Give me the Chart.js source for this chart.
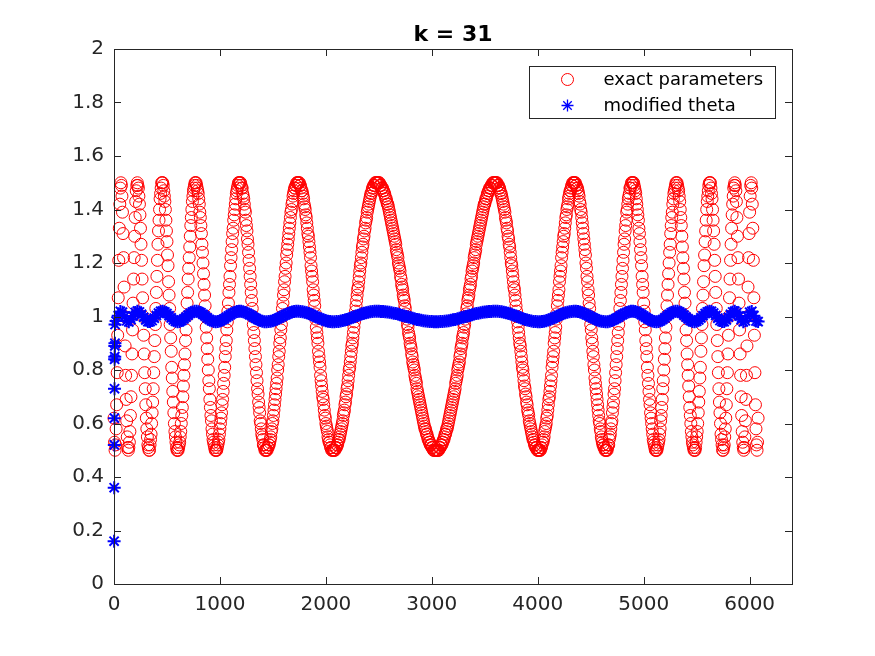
<!DOCTYPE html>
<html>
<head>
<meta charset="utf-8">
<title>k = 31</title>
<script src="https://cdn.jsdelivr.net/npm/chart.js@4.4.1/dist/chart.umd.min.js"></script>
<style>
  html, body { margin: 0; padding: 0; background: #fff; }
  #wrap { width: 875px; height: 656px; }
</style>
</head>
<body>
<div id="wrap"><canvas id="plot" width="875" height="656"></canvas></div>
<script>
/* k = 31 – exact parameters vs modified theta */

// axis ticks
const xTicks = [0, 1000, 2000, 3000, 4000, 5000, 6000];
const yTicks = [0, 0.2, 0.4, 0.6, 0.8, 1, 1.2, 1.4, 1.6, 1.8, 2];

// exact parameters, one value every 5 samples (x = 0 .. 3040, then 3045 .. 6080)
const redStep = 5;
const redLeft = [
  0.62,0.53,
  0.50,0.52,0.58,0.67,0.79,0.93,1.07,1.21,1.33,1.42,1.48,1.50,
  1.49,1.45,1.39,1.31,1.22,1.11,1.00,0.89,0.78,0.69,0.61,0.55,0.51,0.50,
  0.51,0.53,0.57,0.63,0.70,0.78,0.86,0.95,1.05,1.14,1.22,1.30,1.37,1.43,1.47,1.49,1.50,
  1.49,1.48,1.45,1.42,1.38,1.33,1.27,1.21,1.14,1.07,1.00,0.93,0.86,0.79,0.73,0.67,0.62,0.58,0.55,0.52,0.51,0.50,
  0.50,0.52,0.54,0.56,0.60,0.64,0.68,0.73,0.79,0.85,0.91,0.97,1.03,1.09,1.15,1.21,1.27,1.32,1.36,1.40,1.44,1.46,1.48,1.50,1.50,
  1.50,1.49,1.47,1.45,1.43,1.40,1.36,1.32,1.28,1.23,1.19,1.13,1.08,1.03,0.97,0.92,0.87,0.81,0.77,0.72,0.68,0.64,0.60,0.57,0.55,0.53,0.51,0.50,0.50,
  0.50,0.51,0.52,0.53,0.55,0.57,0.60,0.63,0.66,0.70,0.74,0.78,0.82,0.86,0.91,0.95,1.00,1.05,1.09,1.14,1.18,1.22,1.26,1.30,1.34,1.37,1.40,1.43,1.45,1.47,1.48,1.49,1.50,1.50,
  1.50,1.49,1.48,1.47,1.46,1.44,1.42,1.39,1.37,1.34,1.31,1.27,1.24,1.20,1.16,1.12,1.08,1.04,1.00,0.96,0.92,0.88,0.84,0.80,0.76,0.73,0.69,0.66,0.63,0.61,0.58,0.56,0.54,0.53,0.52,0.51,0.50,0.50,
  0.50,0.50,0.51,0.52,0.53,0.54,0.56,0.58,0.60,0.62,0.64,0.67,0.69,0.72,0.75,0.78,0.81,0.85,0.88,0.91,0.95,0.98,1.02,1.05,1.09,1.12,1.15,1.19,1.22,1.25,1.28,1.31,1.33,1.36,1.38,1.40,1.42,1.44,1.46,1.47,1.48,1.49,1.50,1.50,1.50,
  1.50,1.50,1.49,1.48,1.48,1.46,1.45,1.44,1.42,1.40,1.39,1.36,1.34,1.32,1.29,1.27,1.24,1.21,1.18,1.15,1.12,1.09,1.06,1.03,1.00,0.97,0.94,0.91,0.88,0.85,0.82,0.79,0.76,0.73,0.71,0.68,0.66,0.64,0.61,0.60,0.58,0.56,0.55,0.54,0.52,0.52,0.51,0.50,0.50,0.50,
  0.50,0.50,0.51,0.51,0.52,0.52,0.53,0.54,0.55,0.57,0.58,0.60,0.61,0.63,0.65,0.67,0.69,0.71,0.73,0.75,0.77,0.80,0.82,0.85,0.87,0.90,0.92,0.95,0.97,1.00,1.03,1.05,1.08,1.10,1.13,1.15,1.18,1.20,1.23,1.25,1.27,1.29,1.31,1.33,1.35,1.37,1.39,1.40,1.42,1.43,1.45,1.46,1.47,1.48,1.48,1.49,1.49,1.50,1.50,1.50,
  1.50,1.50,1.50,1.49,1.49,1.48,1.47,1.47,1.46,1.45,1.44,1.42,1.41,1.40,1.38,1.37,1.35,1.33,1.31,1.30,1.28,1.26,1.24,1.22,1.19,1.17,1.15,1.13,1.10,1.08,1.06,1.04,1.01,0.99,0.96,0.94,0.92,0.90,0.87,0.85,0.83,0.81,0.78,0.76,0.74,0.72,0.70,0.69,0.67,0.65,0.63,0.62,0.60,0.59,0.58,0.57,0.55,0.54,0.53,0.53,0.52,0.51,0.51,0.50,0.50,0.50,0.50,
  0.50,0.50,0.50,0.51,0.51,0.51,0.52,0.52,0.53,0.54,0.54,0.55,0.56,0.57,0.58,0.59,0.60,0.61,0.63,0.64,0.65,0.67,0.68,0.70,0.71,0.73,0.74,0.76,0.78,0.80,0.81,0.83,0.85,0.87,0.89,0.90,0.92,0.94,0.96,0.98,1.00,1.02,1.04,1.06,1.08,1.10,1.11,1.13,1.15,1.17,1.19,1.20,1.22,1.24,1.26,1.27,1.29,1.30,1.32,1.33,1.35,1.36,1.37,1.39,1.40,1.41,1.42,1.43,1.44,1.45,1.46,1.46,1.47,1.48,1.48,1.49,1.49,1.49,1.50,1.50,1.50,1.50,
  1.50,1.50,1.50,1.50,1.50,1.49,1.49,1.49,1.48,1.48,1.48,1.47,1.47,1.46,1.46,1.45,1.44,1.44,1.43,1.42,1.42,1.41,1.40,1.39,1.38,1.37,1.36,1.35,1.34,1.33,1.32,1.31,1.30,1.29,1.28,1.27,1.25,1.24,1.23,1.22,1.20,1.19,1.18,1.17,1.15,1.14,1.12,1.11,1.10,1.08,1.07,1.06,1.04,1.03,1.01,1.00,0.99,0.97,0.96,0.94,0.93,0.92,0.90,0.89,0.88,0.86,0.85,0.83,0.82,0.81,0.80,0.78,0.77,0.76,0.75,0.73,0.72,0.71,0.70,0.69,0.68,0.67,0.66,0.65,0.64,0.63,0.62,0.61,0.60,0.59,0.58,0.58,0.57,0.56,0.56,0.55,0.54,0.54,0.53,0.53,0.52,0.52,0.52,0.51,0.51,0.51,0.50,0.50,0.50,0.50,0.50,0.50
];
const redRight = [
  0.50,0.50,0.50,0.50,0.50,0.51,0.51,0.51,0.52,0.52,0.52,0.53,0.53,0.54,0.54,0.55,0.56,0.56,0.57,0.58,0.58,0.59,0.60,0.61,0.62,0.63,0.64,0.65,0.66,0.67,0.68,0.69,0.70,0.71,0.72,0.73,0.75,0.76,0.77,0.78,0.80,0.81,0.82,0.83,0.85,0.86,0.88,0.89,0.90,0.92,0.93,0.94,0.96,0.97,0.99,1.00,1.01,1.03,1.04,1.06,1.07,1.08,1.10,1.11,1.12,1.14,1.15,1.17,1.18,1.19,1.20,1.22,1.23,1.24,1.25,1.27,1.28,1.29,1.30,1.31,1.32,1.33,1.34,1.35,1.36,1.37,1.38,1.39,1.40,1.41,1.42,1.42,1.43,1.44,1.44,1.45,1.46,1.46,1.47,1.47,1.48,1.48,1.48,1.49,1.49,1.49,1.50,1.50,1.50,1.50,1.50,1.50,
  1.50,1.50,1.50,1.49,1.49,1.49,1.48,1.48,1.47,1.46,1.46,1.45,1.44,1.43,1.42,1.41,1.40,1.39,1.37,1.36,1.35,1.33,1.32,1.30,1.29,1.27,1.26,1.24,1.22,1.20,1.19,1.17,1.15,1.13,1.11,1.10,1.08,1.06,1.04,1.02,1.00,0.98,0.96,0.94,0.92,0.90,0.89,0.87,0.85,0.83,0.81,0.80,0.78,0.76,0.74,0.73,0.71,0.70,0.68,0.67,0.65,0.64,0.63,0.61,0.60,0.59,0.58,0.57,0.56,0.55,0.54,0.54,0.53,0.52,0.52,0.51,0.51,0.51,0.50,0.50,0.50,0.50,
  0.50,0.50,0.50,0.51,0.51,0.52,0.53,0.53,0.54,0.55,0.57,0.58,0.59,0.60,0.62,0.63,0.65,0.67,0.69,0.70,0.72,0.74,0.76,0.78,0.81,0.83,0.85,0.87,0.90,0.92,0.94,0.96,0.99,1.01,1.04,1.06,1.08,1.10,1.13,1.15,1.17,1.19,1.22,1.24,1.26,1.28,1.30,1.31,1.33,1.35,1.37,1.38,1.40,1.41,1.42,1.44,1.45,1.46,1.47,1.47,1.48,1.49,1.49,1.50,1.50,1.50,1.50,
  1.50,1.50,1.49,1.49,1.48,1.48,1.47,1.46,1.45,1.43,1.42,1.40,1.39,1.37,1.35,1.33,1.31,1.29,1.27,1.25,1.23,1.20,1.18,1.15,1.13,1.10,1.08,1.05,1.03,1.00,0.97,0.95,0.92,0.90,0.87,0.85,0.82,0.80,0.77,0.75,0.73,0.71,0.69,0.67,0.65,0.63,0.61,0.60,0.58,0.57,0.55,0.54,0.53,0.52,0.52,0.51,0.51,0.50,0.50,0.50,
  0.50,0.50,0.51,0.52,0.52,0.54,0.55,0.56,0.58,0.60,0.61,0.64,0.66,0.68,0.71,0.73,0.76,0.79,0.82,0.85,0.88,0.91,0.94,0.97,1.00,1.03,1.06,1.09,1.12,1.15,1.18,1.21,1.24,1.27,1.29,1.32,1.34,1.36,1.39,1.40,1.42,1.44,1.45,1.46,1.48,1.48,1.49,1.50,1.50,1.50,
  1.50,1.50,1.49,1.48,1.47,1.46,1.44,1.42,1.40,1.38,1.36,1.33,1.31,1.28,1.25,1.22,1.19,1.15,1.12,1.09,1.05,1.02,0.98,0.95,0.91,0.88,0.85,0.81,0.78,0.75,0.72,0.69,0.67,0.64,0.62,0.60,0.58,0.56,0.54,0.53,0.52,0.51,0.50,0.50,0.50,
  0.50,0.51,0.52,0.53,0.54,0.56,0.58,0.61,0.63,0.66,0.69,0.73,0.76,0.80,0.84,0.88,0.92,0.96,1.00,1.04,1.08,1.12,1.16,1.20,1.24,1.27,1.31,1.34,1.37,1.39,1.42,1.44,1.46,1.47,1.48,1.49,1.50,1.50,
  1.50,1.49,1.48,1.47,1.45,1.43,1.40,1.37,1.34,1.30,1.26,1.22,1.18,1.14,1.09,1.05,1.00,0.95,0.91,0.86,0.82,0.78,0.74,0.70,0.66,0.63,0.60,0.57,0.55,0.53,0.52,0.51,0.50,0.50,
  0.50,0.51,0.53,0.55,0.57,0.60,0.64,0.68,0.72,0.77,0.81,0.87,0.92,0.97,1.03,1.08,1.13,1.19,1.23,1.28,1.32,1.36,1.40,1.43,1.45,1.47,1.49,1.50,1.50,
  1.50,1.48,1.46,1.44,1.40,1.36,1.32,1.27,1.21,1.15,1.09,1.03,0.97,0.91,0.85,0.79,0.73,0.68,0.64,0.60,0.56,0.54,0.52,0.50,0.50,
  0.51,0.52,0.55,0.58,0.62,0.67,0.73,0.79,0.86,0.93,1.00,1.07,1.14,1.21,1.27,1.33,1.38,1.42,1.45,1.48,1.49,1.50,
  1.49,1.47,1.43,1.37,1.30,1.22,1.14,1.05,0.95,0.86,0.78,0.70,0.63,0.57,0.53,0.51,0.50,
  0.51,0.55,0.61,0.69,0.78,0.89,1.00,1.11,1.22,1.31,1.39,1.45,1.49,1.50,
  1.48,1.42,1.33,1.21,1.07,0.93,0.79,0.67,0.58,0.52,0.50,
  0.53,0.62
];

// modified theta: first iterations (x = 1 .. 10), then one value every 20 samples from x = 20
const blueStart = [0.16, 0.36, 0.52, 0.62, 0.73, 0.84, 0.85, 0.89, 0.90, 0.97];
const blueFirstX = 20;
const blueStep = 20;
const blueLeft = [
  0.983,1.003,1.019,1.016,1.000,0.984,0.980,0.988,1.002,1.015,1.020,1.017,1.008,0.997,0.987,0.981,0.981,0.985,0.994,1.004,
  1.013,1.019,1.020,1.017,1.011,1.003,0.995,0.987,0.982,0.980,0.981,0.985,0.991,0.998,1.005,1.012,1.017,1.020,1.020,1.018,
  1.014,1.008,1.002,0.995,0.989,0.984,0.981,0.980,0.981,0.983,0.987,0.991,0.997,1.002,1.007,1.012,1.016,1.019,1.020,1.020,
  1.018,1.015,1.012,1.007,1.003,0.997,0.993,0.988,0.985,0.982,0.980,0.980,0.981,0.982,0.984,0.987,0.991,0.995,0.999,1.003,
  1.007,1.011,1.014,1.017,1.019,1.020,1.020,1.019,1.018,1.016,1.014,1.011,1.008,1.004,1.000,0.997,0.993,0.990,0.987,0.984,
  0.982,0.981,0.980,0.980,0.981,0.981,0.983,0.985,0.987,0.989,0.992,0.995,0.998,1.001,1.004,1.007,1.010,1.012,1.014,1.016,
  1.018,1.019,1.020,1.020,1.020,1.019,1.019,1.018,1.017,1.016,1.014,1.012,1.011,1.009,1.007,1.004,1.002,1.000,0.998,0.996,
  0.993,0.991,0.989,0.988,0.986,0.984,0.983,0.982,0.981,0.981,0.980,0.980
];
const blueRight = [
  0.980,0.981,0.981,0.982,0.983,0.984,0.986,0.988,0.989,0.991,0.993,0.996,0.998,1.000,1.002,1.004,1.007,1.009,1.011,1.012,
  1.014,1.016,1.017,1.018,1.019,1.019,1.020,1.020,1.020,1.019,1.018,1.016,1.014,1.012,1.010,1.007,1.004,1.001,0.998,0.995,
  0.992,0.989,0.987,0.985,0.983,0.981,0.981,0.980,0.980,0.981,0.982,0.984,0.987,0.990,0.993,0.997,1.000,1.004,1.008,1.011,
  1.014,1.016,1.018,1.019,1.020,1.020,1.019,1.017,1.014,1.011,1.007,1.003,0.999,0.995,0.991,0.987,0.984,0.982,0.981,0.980,
  0.980,0.982,0.985,0.988,0.993,0.997,1.003,1.007,1.012,1.015,1.018,1.020,1.020,1.019,1.016,1.012,1.007,1.002,0.997,0.991,
  0.987,0.983,0.981,0.980,0.981,0.984,0.989,0.995,1.002,1.008,1.014,1.018,1.020,1.020,1.017,1.012,1.005,0.998,0.991,0.985,
  0.981,0.980,0.982,0.987,0.995,1.003,1.011,1.017,1.020,1.019,1.013,1.004,0.994,0.985,0.981,0.981,0.987,0.997,1.008,1.017,
  1.020,1.015,1.002,0.988,0.980,0.984,1.000,1.016,1.019,1.003,0.983,0.981
];

const AXIS_COLOR = '#262626';
const TICK_LEN = 7;
const FONT = '"DejaVu Sans", "Liberation Sans", sans-serif';

Chart.defaults.font.family = FONT;

const redPoints = redLeft.concat(redRight).map((y, i) => ({ x: i * redStep, y }));
const bluePoints = blueStart.map((y, i) => ({ x: i + 1, y }))
  .concat(blueLeft.concat(blueRight).map((y, i) => ({ x: blueFirstX + i * blueStep, y })));

// box, inward ticks on all four sides, title and legend (MATLAB look)
const matlabFrame = {
  id: 'matlabFrame',
  afterDatasetsDraw(chart) {
    const { ctx, chartArea: a, scales } = chart;
    ctx.save();
    ctx.strokeStyle = AXIS_COLOR;
    ctx.lineWidth = 1;
    ctx.beginPath();
    xTicks.forEach(v => {
      const px = Math.round(scales.x.getPixelForValue(v)) + 0.5;
      ctx.moveTo(px, a.bottom); ctx.lineTo(px, a.bottom - TICK_LEN);
      ctx.moveTo(px, a.top); ctx.lineTo(px, a.top + TICK_LEN);
    });
    yTicks.forEach(v => {
      const py = Math.round(scales.y.getPixelForValue(v)) + 0.5;
      ctx.moveTo(a.left, py); ctx.lineTo(a.left + TICK_LEN, py);
      ctx.moveTo(a.right, py); ctx.lineTo(a.right - TICK_LEN, py);
    });
    ctx.stroke();
    ctx.strokeRect(Math.round(a.left) + 0.5, Math.round(a.top) + 0.5,
                   Math.round(a.right - a.left), Math.round(a.bottom - a.top));
    ctx.restore();
  },
  afterDraw(chart) {
    const { ctx, chartArea: a } = chart;
    ctx.save();

    // title
    ctx.fillStyle = '#000';
    ctx.font = 'bold 22px ' + FONT;
    ctx.textAlign = 'center';
    ctx.textBaseline = 'alphabetic';
    ctx.fillText('k = 31', (a.left + a.right) / 2, a.top - 8);

    // legend
    const bw = 246, bh = 52;
    const bx = Math.round(a.right - 17 - bw) + 0.5;
    const by = Math.round(a.top + 17) + 0.5;
    ctx.fillStyle = '#fff';
    ctx.fillRect(bx, by, bw, bh);
    ctx.strokeStyle = AXIS_COLOR;
    ctx.lineWidth = 1;
    ctx.strokeRect(bx, by, bw, bh);

    const rows = [
      { text: 'exact parameters', style: 'circle', color: '#ff0000', radius: 6, width: 1 },
      { text: 'modified theta', style: 'star', color: '#0000ff', radius: 6, width: 1.3 }
    ];
    ctx.font = '18px ' + FONT;
    ctx.textAlign = 'left';
    ctx.textBaseline = 'middle';
    rows.forEach((r, i) => {
      const cy = by + 13 + i * 26;
      ctx.strokeStyle = r.color;
      ctx.fillStyle = 'rgba(0,0,0,0)';
      ctx.lineWidth = r.width;
      Chart.helpers.drawPoint(ctx, { pointStyle: r.style, radius: r.radius, rotation: 0, borderWidth: r.width }, bx + 38, cy);
      ctx.fillStyle = '#000';
      ctx.fillText(r.text, bx + 74, cy + 1);
    });
    ctx.restore();
  }
};

new Chart(document.getElementById('plot'), {
  type: 'scatter',
  data: {
    datasets: [
      {
        label: 'exact parameters',
        data: redPoints,
        order: 2,
        showLine: false,
        pointStyle: 'circle',
        pointRadius: 6,
        pointBorderColor: '#ff0000',
        pointBackgroundColor: 'rgba(0,0,0,0)',
        pointBorderWidth: 1,
        clip: false
      },
      {
        label: 'modified theta',
        data: bluePoints,
        order: 1,
        showLine: false,
        pointStyle: 'star',
        pointRadius: 6.5,
        pointBorderColor: '#0000ff',
        pointBackgroundColor: '#0000ff',
        pointBorderWidth: 2,
        clip: false
      }
    ]
  },
  options: {
    responsive: false,
    animation: false,
    events: [],
    layout: { padding: { top: 49, right: 83, left: 0, bottom: 0 } },
    plugins: { legend: { display: false }, tooltip: { enabled: false } },
    scales: {
      x: {
        type: 'linear',
        min: 0,
        max: 6400,
        afterBuildTicks: s => { s.ticks = xTicks.map(v => ({ value: v })); },
        afterFit: s => { s.height = 72; },
        grid: { display: false, drawTicks: false },
        border: { display: false },
        ticks: {
          color: AXIS_COLOR,
          font: { size: 20 },
          padding: 9,
          maxRotation: 0,
          autoSkip: false,
          callback: v => String(v)
        }
      },
      y: {
        type: 'linear',
        min: 0,
        max: 2,
        afterBuildTicks: s => { s.ticks = yTicks.map(v => ({ value: v })); },
        afterFit: s => { s.width = 114; },
        grid: { display: false, drawTicks: false },
        border: { display: false },
        ticks: {
          color: AXIS_COLOR,
          font: { size: 20 },
          padding: 10,
          autoSkip: false,
          callback: v => String(Math.round(v * 10) / 10)
        }
      }
    }
  },
  plugins: [matlabFrame]
});
</script>
</body>
</html>
